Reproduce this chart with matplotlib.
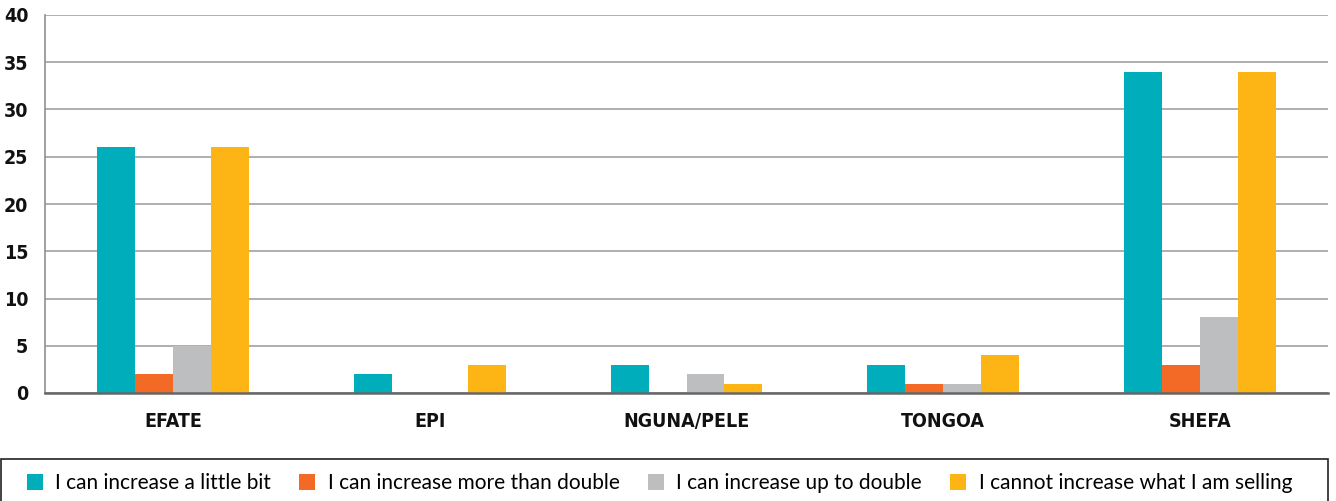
import numpy as np
import matplotlib.pyplot as plt
from matplotlib.patches import Rectangle

# data
regions = ['EFATE', 'EPI', 'NGUNA/PELE', 'TONGOA', 'SHEFA']
little_bit = [26, 2, 3, 3, 34]
more_than_double = [2, 0, 0, 1, 3]
up_to_double = [5, 0, 2, 1, 8]
cannot_increase = [26, 3, 1, 4, 34]

series = [
    ('I can increase a little bit', little_bit, '#00adbb'),
    ('I can increase more than double', more_than_double, '#f26a25'),
    ('I can increase up to double', up_to_double, '#bdbec0'),
    ('I cannot increase what I am selling', cannot_increase, '#fdb515'),
]

tick_font = ['DejaVu Sans']
legend_font = ['Lato', 'DejaVu Sans']

W, H = 1336, 501
fig = plt.figure(figsize=(W / 100, H / 100), dpi=100)
ax = fig.add_axes([45 / W, 108 / H, (1328 - 45) / W, 378 / H])

x = np.arange(len(regions))
w = 0.148
for i, (label, vals, col) in enumerate(series):
    ax.bar(x + (i - 1.5) * w, vals, width=w, color=col, label=label, zorder=3)

ax.set_xlim(-0.5, len(regions) - 0.5)
ax.set_ylim(0, 40)
ax.set_yticks(range(0, 41, 5))
ax.set_xticks(x)
ax.set_xticklabels(regions)
ax.yaxis.grid(True, color='#a8a8a8', lw=1.3, zorder=0)
ax.set_axisbelow(True)

for s in ['top', 'right']:
    ax.spines[s].set_visible(False)
ax.spines['left'].set_color('#909090')
ax.spines['left'].set_linewidth(1.2)
ax.spines['bottom'].set_color('#666666')
ax.spines['bottom'].set_linewidth(1.8)
ax.spines['bottom'].set_zorder(4)

ax.tick_params(axis='both', length=0)
ax.tick_params(axis='y', pad=12)
ax.tick_params(axis='x', pad=14)
for t in ax.get_xticklabels() + ax.get_yticklabels():
    t.set_family(tick_font)
    t.set_fontstretch('condensed')
    t.set_fontweight('bold')
    t.set_fontsize(14)
    t.set_color('#111111')

# legend box along the bottom
top = 1 - 459 / H
fig.patches.append(Rectangle((0.5 / W, -0.1), 1327.5 / W, top + 0.1,
                             transform=fig.transFigure, fill=False,
                             edgecolor='#222222', lw=1.2))
handles, labels = ax.get_legend_handles_labels()
fig.legend(handles, labels, loc='center left', bbox_to_anchor=(10 / W, 1 - 483 / H),
           ncol=4, frameon=False, handlelength=0.77, handleheight=0.77,
           handletextpad=0.6, columnspacing=1.35, borderpad=0.3,
           prop={'family': legend_font, 'size': 15})

fig.savefig('out.png', dpi=100)
